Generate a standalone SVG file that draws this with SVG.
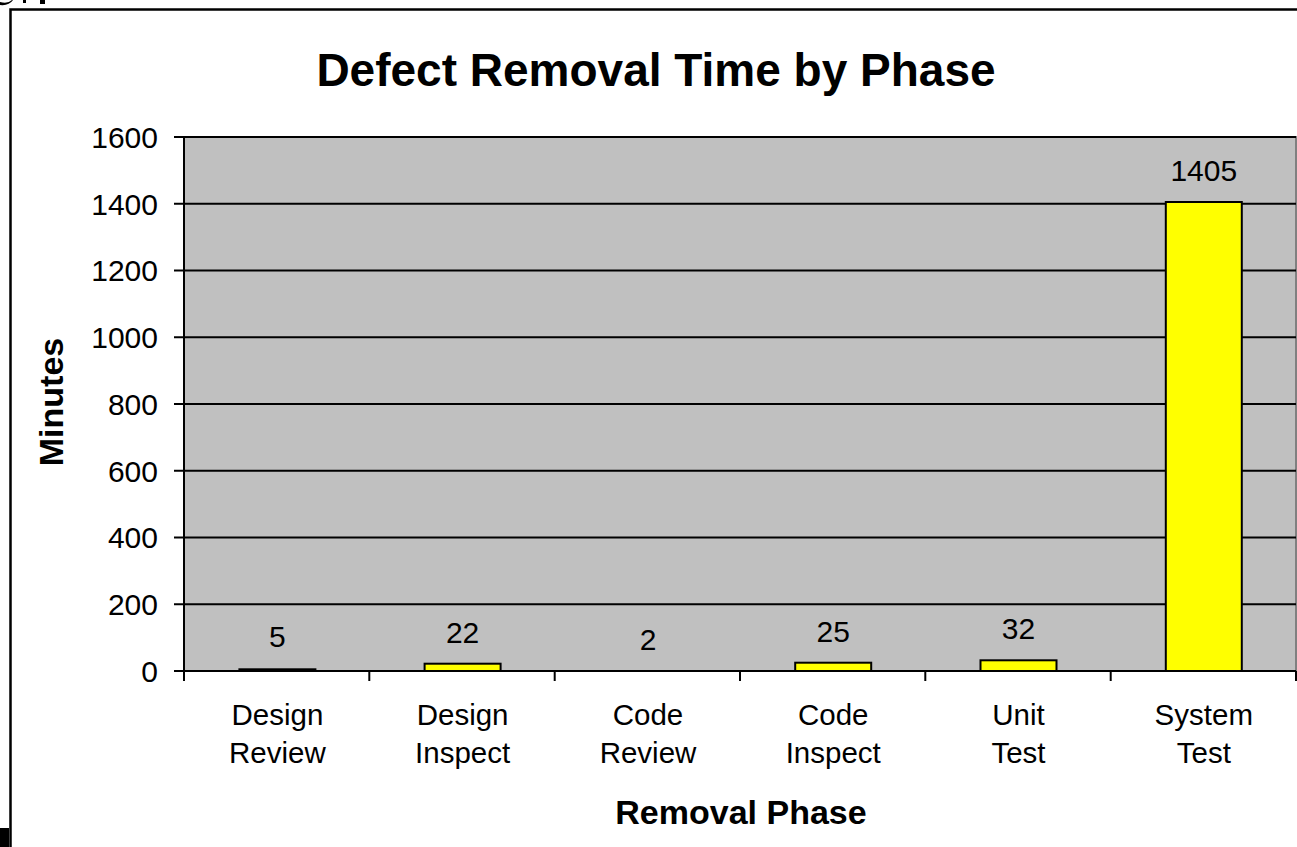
<svg xmlns="http://www.w3.org/2000/svg" width="1297" height="847" viewBox="0 0 1297 847">
<style>
  text { font-family: "Liberation Sans", Arial, sans-serif; fill: #000; }
  .tick { font-size: 30px; text-anchor: end; }
  .cat { font-size: 29.5px; text-anchor: middle; }
  .val { font-size: 30px; text-anchor: middle; }
  .bar { fill: #FFFF00; stroke: #000; stroke-width: 2; }
  .grid { stroke: #000; stroke-width: 2; }
  .axis { stroke: #000; stroke-width: 2; }
</style>
<rect x="0" y="0" width="1297" height="847" fill="#fff"/>
<!-- clipped fragments at top-left -->
<path d="M0,2 Q8,4 12,0 L13,0 Q9,6 0,5 Z" fill="#000"/>
<rect x="23" y="0" width="3" height="3" fill="#000"/>
<rect x="40" y="0" width="5" height="4" fill="#000"/>
<!-- frame -->
<path d="M10.5,848 L10.5,9.5 L1298,9.5" fill="none" stroke="#000" stroke-width="2.5"/>
<rect x="0" y="828" width="9" height="19" fill="#000"/>

<text x="656" y="86" font-size="46" font-weight="bold" text-anchor="middle">Defect Removal Time by Phase</text>

<g id="plot">
  <rect x="184" y="137" width="1112" height="534" fill="#C0C0C0" stroke="#808080" stroke-width="2"/>
  <g class="grid">
    <line x1="184" y1="137" x2="1296" y2="137"/>
    <line x1="184" y1="203.75" x2="1296" y2="203.75"/>
    <line x1="184" y1="270.5" x2="1296" y2="270.5"/>
    <line x1="184" y1="337.25" x2="1296" y2="337.25"/>
    <line x1="184" y1="404" x2="1296" y2="404"/>
    <line x1="184" y1="470.75" x2="1296" y2="470.75"/>
    <line x1="184" y1="537.5" x2="1296" y2="537.5"/>
    <line x1="184" y1="604.25" x2="1296" y2="604.25"/>
  </g>
</g>

<g id="bars">
  <rect class="bar" x="239.4" y="669.3" width="76" height="1.7"/>
  <rect class="bar" x="424.6" y="663.7" width="76" height="7.3"/>
  <rect x="610" y="670.3" width="76" height="0.7" fill="#FFFF00" opacity="0"/>
  <rect class="bar" x="795.2" y="662.7" width="76" height="8.3"/>
  <rect class="bar" x="980.5" y="660.3" width="76" height="10.7"/>
  <rect class="bar" x="1165.8" y="202" width="76" height="469"/>
</g>

<g id="axes">
  <line class="axis" x1="184" y1="136" x2="184" y2="681"/>
  <line class="axis" x1="184" y1="671" x2="1296" y2="671"/>
  <g class="axis">
    <line x1="174" y1="137" x2="184" y2="137"/>
    <line x1="174" y1="203.75" x2="184" y2="203.75"/>
    <line x1="174" y1="270.5" x2="184" y2="270.5"/>
    <line x1="174" y1="337.25" x2="184" y2="337.25"/>
    <line x1="174" y1="404" x2="184" y2="404"/>
    <line x1="174" y1="470.75" x2="184" y2="470.75"/>
    <line x1="174" y1="537.5" x2="184" y2="537.5"/>
    <line x1="174" y1="604.25" x2="184" y2="604.25"/>
    <line x1="174" y1="671" x2="184" y2="671"/>
    <line x1="369.3" y1="671" x2="369.3" y2="681"/>
    <line x1="554.7" y1="671" x2="554.7" y2="681"/>
    <line x1="740" y1="671" x2="740" y2="681"/>
    <line x1="925.3" y1="671" x2="925.3" y2="681"/>
    <line x1="1110.7" y1="671" x2="1110.7" y2="681"/>
    <line x1="1296" y1="671" x2="1296" y2="681"/>
  </g>
</g>

<g id="ytick-labels">
  <text class="tick" x="158" y="148">1600</text>
  <text class="tick" x="158" y="215">1400</text>
  <text class="tick" x="158" y="281">1200</text>
  <text class="tick" x="158" y="348">1000</text>
  <text class="tick" x="158" y="415">800</text>
  <text class="tick" x="158" y="482">600</text>
  <text class="tick" x="158" y="548">400</text>
  <text class="tick" x="158" y="615">200</text>
  <text class="tick" x="158" y="682">0</text>
</g>

<g id="value-labels">
  <text class="val" x="277.4" y="647">5</text>
  <text class="val" x="462.6" y="643">22</text>
  <text class="val" x="648" y="650">2</text>
  <text class="val" x="833.2" y="642">25</text>
  <text class="val" x="1018.5" y="639">32</text>
  <text class="val" x="1203.8" y="181">1405</text>
</g>

<g id="category-labels">
  <text class="cat" x="277.4" y="725">Design</text>
  <text class="cat" x="277.4" y="763">Review</text>
  <text class="cat" x="462.6" y="725">Design</text>
  <text class="cat" x="462.6" y="763">Inspect</text>
  <text class="cat" x="648" y="725">Code</text>
  <text class="cat" x="648" y="763">Review</text>
  <text class="cat" x="833.2" y="725">Code</text>
  <text class="cat" x="833.2" y="763">Inspect</text>
  <text class="cat" x="1018.5" y="725">Unit</text>
  <text class="cat" x="1018.5" y="763">Test</text>
  <text class="cat" x="1203.8" y="725">System</text>
  <text class="cat" x="1203.8" y="763">Test</text>
</g>

<text x="63" y="402" font-size="34" font-weight="bold" text-anchor="middle" transform="rotate(-90 63 402)">Minutes</text>
<text x="741" y="824" font-size="34" font-weight="bold" text-anchor="middle">Removal Phase</text>
</svg>
